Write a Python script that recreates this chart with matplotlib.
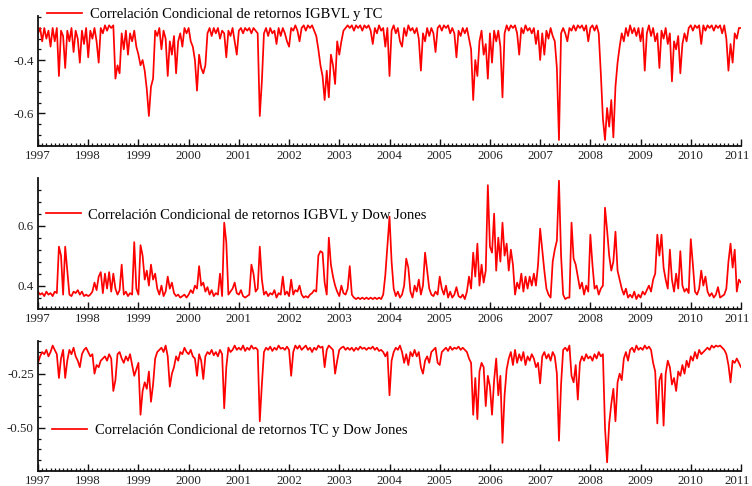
import numpy as np
import matplotlib
matplotlib.use("Agg")
import matplotlib.pyplot as plt
from matplotlib.ticker import MultipleLocator, FormatStrFormatter
from matplotlib.transforms import ScaledTranslation

plt.rcParams['font.family'] = ['Liberation Serif', 'DejaVu Serif']

start_year = 1997
per_year = 24
years = list(range(1997, 2012))
year_labels = [str(y) for y in years]

label_tc = "Correlación Condicional de retornos IGBVL y TC"
label_dj = "Correlación Condicional de retornos IGBVL y Dow Jones"
label_tcdj = "Correlación Condicional de retornos TC y Dow Jones"

corr_igbvl_tc = [
    -0.30,-0.28,-0.33,-0.28,-0.32,-0.29,-0.35,-0.28,-0.33,-0.28,-0.46,-0.29,-0.31,-0.43,-0.29,-0.33,-0.28,-0.37,-0.29,-0.32,-0.41,-0.29,-0.34,-0.28,
    -0.39,-0.29,-0.32,-0.28,-0.33,-0.41,-0.28,-0.30,-0.27,-0.29,-0.27,-0.28,-0.27,-0.47,-0.42,-0.45,-0.30,-0.36,-0.29,-0.38,-0.30,-0.33,-0.29,-0.35,
    -0.38,-0.42,-0.40,-0.44,-0.51,-0.61,-0.50,-0.47,-0.29,-0.31,-0.28,-0.36,-0.29,-0.32,-0.46,-0.33,-0.38,-0.31,-0.45,-0.33,-0.30,-0.35,-0.28,-0.30,
    -0.28,-0.33,-0.35,-0.40,-0.515,-0.38,-0.43,-0.45,-0.42,-0.30,-0.28,-0.31,-0.28,-0.30,-0.28,-0.32,-0.29,-0.30,-0.39,-0.29,-0.31,-0.28,-0.33,-0.38,
    -0.29,-0.28,-0.30,-0.28,-0.29,-0.28,-0.30,-0.28,-0.29,-0.30,-0.61,-0.48,-0.30,-0.28,-0.31,-0.28,-0.30,-0.29,-0.34,-0.28,-0.31,-0.28,-0.30,-0.33,
    -0.35,-0.28,-0.29,-0.27,-0.29,-0.33,-0.28,-0.27,-0.29,-0.27,-0.28,-0.27,-0.29,-0.31,-0.36,-0.42,-0.46,-0.55,-0.44,-0.54,-0.38,-0.42,-0.49,-0.33,
    -0.38,-0.33,-0.29,-0.28,-0.27,-0.28,-0.27,-0.29,-0.27,-0.28,-0.27,-0.29,-0.27,-0.28,-0.27,-0.29,-0.34,-0.28,-0.30,-0.27,-0.29,-0.28,-0.35,-0.28,
    -0.46,-0.29,-0.27,-0.30,-0.28,-0.33,-0.35,-0.28,-0.31,-0.27,-0.29,-0.28,-0.30,-0.28,-0.32,-0.44,-0.30,-0.33,-0.28,-0.31,-0.28,-0.30,-0.37,-0.28,
    -0.27,-0.29,-0.27,-0.28,-0.27,-0.30,-0.28,-0.30,-0.39,-0.29,-0.31,-0.28,-0.30,-0.28,-0.32,-0.36,-0.55,-0.40,-0.46,-0.33,-0.29,-0.38,-0.34,-0.47,
    -0.30,-0.41,-0.29,-0.33,-0.29,-0.35,-0.54,-0.30,-0.27,-0.29,-0.27,-0.28,-0.27,-0.30,-0.38,-0.28,-0.30,-0.27,-0.29,-0.28,-0.30,-0.28,-0.34,-0.29,
    -0.40,-0.30,-0.38,-0.29,-0.32,-0.28,-0.31,-0.33,-0.43,-0.70,-0.30,-0.28,-0.30,-0.33,-0.28,-0.29,-0.27,-0.29,-0.27,-0.28,-0.27,-0.29,-0.27,-0.33,
    -0.28,-0.27,-0.29,-0.27,-0.30,-0.45,-0.62,-0.70,-0.58,-0.65,-0.55,-0.69,-0.50,-0.41,-0.35,-0.30,-0.33,-0.28,-0.31,-0.27,-0.30,-0.28,-0.31,-0.28,
    -0.33,-0.28,-0.44,-0.30,-0.27,-0.31,-0.28,-0.33,-0.30,-0.43,-0.29,-0.32,-0.28,-0.34,-0.30,-0.48,-0.33,-0.36,-0.31,-0.45,-0.34,-0.30,-0.33,-0.28,
    -0.27,-0.29,-0.27,-0.28,-0.27,-0.34,-0.27,-0.29,-0.27,-0.28,-0.27,-0.29,-0.27,-0.28,-0.27,-0.30,-0.27,-0.32,-0.44,-0.34,-0.41,-0.30,-0.32,-0.28,
    -0.28,
]

corr_igbvl_dj = [
    0.38,0.37,0.375,0.365,0.38,0.37,0.375,0.365,0.38,0.375,0.53,0.50,0.37,0.53,0.45,0.37,0.365,0.38,0.375,0.385,0.37,0.38,0.365,0.37,
    0.365,0.37,0.38,0.41,0.385,0.43,0.445,0.375,0.44,0.39,0.445,0.38,0.44,0.39,0.37,0.385,0.47,0.37,0.38,0.365,0.375,0.37,0.545,0.39,
    0.37,0.535,0.50,0.42,0.45,0.40,0.47,0.42,0.44,0.39,0.37,0.40,0.365,0.38,0.43,0.39,0.41,0.375,0.365,0.37,0.36,0.365,0.37,0.36,
    0.37,0.385,0.375,0.40,0.39,0.465,0.40,0.41,0.38,0.395,0.37,0.385,0.365,0.375,0.37,0.44,0.365,0.61,0.545,0.37,0.38,0.39,0.41,0.375,
    0.37,0.385,0.365,0.36,0.365,0.37,0.47,0.44,0.38,0.39,0.53,0.42,0.37,0.38,0.365,0.375,0.37,0.385,0.36,0.375,0.37,0.43,0.37,0.38,
    0.365,0.42,0.37,0.385,0.38,0.40,0.37,0.36,0.365,0.36,0.37,0.375,0.385,0.38,0.50,0.515,0.51,0.41,0.37,0.56,0.47,0.43,0.40,0.38,
    0.365,0.40,0.375,0.37,0.39,0.465,0.37,0.36,0.355,0.36,0.355,0.36,0.355,0.36,0.355,0.36,0.355,0.36,0.355,0.36,0.355,0.37,0.435,0.53,
    0.63,0.48,0.39,0.365,0.38,0.36,0.37,0.40,0.49,0.46,0.38,0.36,0.40,0.38,0.42,0.37,0.40,0.51,0.45,0.39,0.37,0.365,0.38,0.37,
    0.43,0.39,0.37,0.40,0.36,0.38,0.36,0.37,0.395,0.365,0.36,0.37,0.355,0.38,0.43,0.39,0.51,0.43,0.54,0.40,0.47,0.41,0.45,0.735,
    0.53,0.51,0.64,0.45,0.56,0.48,0.61,0.50,0.54,0.45,0.52,0.47,0.37,0.41,0.39,0.44,0.38,0.43,0.39,0.43,0.40,0.44,0.40,0.47,
    0.59,0.52,0.45,0.39,0.37,0.36,0.48,0.52,0.55,0.75,0.50,0.37,0.355,0.36,0.36,0.61,0.49,0.47,0.43,0.39,0.41,0.37,0.40,0.38,
    0.57,0.47,0.39,0.40,0.37,0.39,0.40,0.66,0.585,0.50,0.45,0.48,0.58,0.45,0.42,0.39,0.37,0.39,0.36,0.37,0.36,0.38,0.355,0.37,
    0.36,0.38,0.37,0.385,0.40,0.38,0.42,0.44,0.57,0.50,0.57,0.46,0.42,0.39,0.52,0.42,0.38,0.44,0.39,0.515,0.40,0.38,0.39,0.375,
    0.555,0.47,0.38,0.37,0.39,0.45,0.40,0.43,0.38,0.365,0.375,0.36,0.37,0.395,0.36,0.365,0.37,0.39,0.48,0.54,0.46,0.52,0.38,0.42,
    0.41,
]

corr_tc_dj = [
    -0.20,-0.17,-0.15,-0.16,-0.14,-0.17,-0.15,-0.12,-0.14,-0.16,-0.27,-0.18,-0.14,-0.27,-0.19,-0.14,-0.16,-0.13,-0.17,-0.19,-0.22,-0.16,-0.14,-0.13,
    -0.15,-0.17,-0.16,-0.25,-0.21,-0.22,-0.19,-0.18,-0.17,-0.19,-0.16,-0.18,-0.33,-0.28,-0.16,-0.15,-0.18,-0.20,-0.17,-0.19,-0.16,-0.21,-0.26,-0.23,
    -0.20,-0.44,-0.33,-0.29,-0.32,-0.24,-0.38,-0.30,-0.18,-0.15,-0.14,-0.13,-0.15,-0.12,-0.17,-0.31,-0.25,-0.22,-0.17,-0.19,-0.15,-0.16,-0.13,-0.15,
    -0.16,-0.14,-0.17,-0.18,-0.26,-0.16,-0.19,-0.275,-0.17,-0.15,-0.16,-0.14,-0.165,-0.15,-0.17,-0.14,-0.16,-0.41,-0.22,-0.13,-0.15,-0.14,-0.12,-0.14,
    -0.13,-0.14,-0.12,-0.145,-0.13,-0.14,-0.12,-0.135,-0.13,-0.14,-0.47,-0.30,-0.15,-0.13,-0.14,-0.125,-0.145,-0.13,-0.14,-0.12,-0.135,-0.13,-0.14,-0.125,
    -0.14,-0.26,-0.15,-0.12,-0.135,-0.12,-0.14,-0.13,-0.12,-0.14,-0.13,-0.15,-0.13,-0.14,-0.12,-0.13,-0.125,-0.22,-0.14,-0.12,-0.13,-0.14,-0.25,-0.19,
    -0.14,-0.13,-0.125,-0.14,-0.13,-0.14,-0.13,-0.145,-0.13,-0.14,-0.125,-0.135,-0.13,-0.14,-0.13,-0.135,-0.125,-0.14,-0.13,-0.145,-0.14,-0.15,-0.17,-0.15,
    -0.35,-0.19,-0.15,-0.13,-0.14,-0.12,-0.15,-0.20,-0.16,-0.21,-0.15,-0.17,-0.14,-0.17,-0.15,-0.22,-0.25,-0.19,-0.17,-0.20,-0.15,-0.14,-0.13,-0.20,
    -0.21,-0.15,-0.14,-0.13,-0.145,-0.125,-0.14,-0.13,-0.135,-0.125,-0.14,-0.13,-0.14,-0.15,-0.18,-0.20,-0.44,-0.27,-0.46,-0.24,-0.20,-0.22,-0.40,-0.26,
    -0.31,-0.44,-0.28,-0.18,-0.35,-0.26,-0.57,-0.35,-0.23,-0.18,-0.15,-0.21,-0.14,-0.20,-0.16,-0.19,-0.15,-0.21,-0.17,-0.19,-0.16,-0.18,-0.22,-0.20,
    -0.295,-0.17,-0.15,-0.18,-0.16,-0.19,-0.15,-0.17,-0.25,-0.56,-0.30,-0.14,-0.13,-0.145,-0.12,-0.26,-0.29,-0.21,-0.37,-0.20,-0.17,-0.19,-0.16,-0.18,
    -0.17,-0.19,-0.16,-0.18,-0.15,-0.17,-0.16,-0.50,-0.66,-0.48,-0.39,-0.32,-0.47,-0.29,-0.25,-0.28,-0.18,-0.15,-0.19,-0.14,-0.13,-0.15,-0.12,-0.14,
    -0.13,-0.14,-0.12,-0.135,-0.125,-0.14,-0.20,-0.24,-0.48,-0.28,-0.25,-0.49,-0.25,-0.19,-0.22,-0.30,-0.27,-0.33,-0.24,-0.26,-0.21,-0.25,-0.19,-0.22,
    -0.17,-0.19,-0.15,-0.18,-0.14,-0.16,-0.15,-0.14,-0.13,-0.14,-0.12,-0.13,-0.12,-0.125,-0.12,-0.13,-0.14,-0.16,-0.21,-0.29,-0.19,-0.20,-0.18,-0.20,
    -0.22,
]


def time_axis(values):
    return start_year + np.arange(len(values)) / per_year


W, H = 752, 486
fig = plt.figure(figsize=(W / 100, H / 100), dpi=100)

panels = [
    # (values, label, top_px, bottom_px, ylim, major, minor, fmt, legend anchor)
    (corr_igbvl_tc, label_tc, 16, 146, (-0.7225, -0.235), 0.2, 0.04, '%.1f', (0.0135, 1.015)),
    (corr_igbvl_dj, label_dj, 178, 309, (0.322, 0.759), 0.2, 0.04, '%.1f', (0.0115, 0.718)),
    (corr_tc_dj, label_tcdj, 341, 471, (-0.70, -0.099), 0.25, 0.05, '%.2f', (0.0205, 0.315)),
]

left_px, right_px = 38, 741
tick_color = '#222222'
for vals, lab, top, bot, ylim, major, minor, fmt, anchor in panels:
    ax = fig.add_axes([left_px / W, 1 - bot / H, (right_px - left_px) / W, (bot - top) / H])
    ax.plot(time_axis(vals), vals, color='#ff0000', lw=1.25, label=lab)
    ax.set_xlim(1997, 2011)
    ax.set_ylim(*ylim)
    ax.set_xticks(years)
    ax.set_xticklabels(year_labels)
    ax.xaxis.set_minor_locator(MultipleLocator(1 / 12))
    ax.yaxis.set_major_locator(MultipleLocator(major))
    ax.yaxis.set_minor_locator(MultipleLocator(minor))
    ax.yaxis.set_major_formatter(FormatStrFormatter(fmt))
    for s in ('top', 'right'):
        ax.spines[s].set_visible(False)
    for s in ('left', 'bottom'):
        ax.spines[s].set_linewidth(1.3)
        ax.spines[s].set_color('#111111')
    ax.tick_params(axis='both', which='major', direction='in', length=5, width=1.0,
                   labelsize=9.3, pad=3, color='#111111', labelcolor=tick_color)
    ax.tick_params(axis='both', which='minor', direction='in', length=2.5, width=0.9,
                   color='#111111')
    last = ax.get_xticklabels()[-1]
    last.set_transform(last.get_transform() + ScaledTranslation(-2.5 / 72, 0, fig.dpi_scale_trans))
    ax.legend(loc='center left', bbox_to_anchor=anchor, frameon=False, borderpad=0,
              borderaxespad=0, handlelength=2.4, handletextpad=0.5, fontsize=10.5)

fig.savefig('out.png', dpi=100)
